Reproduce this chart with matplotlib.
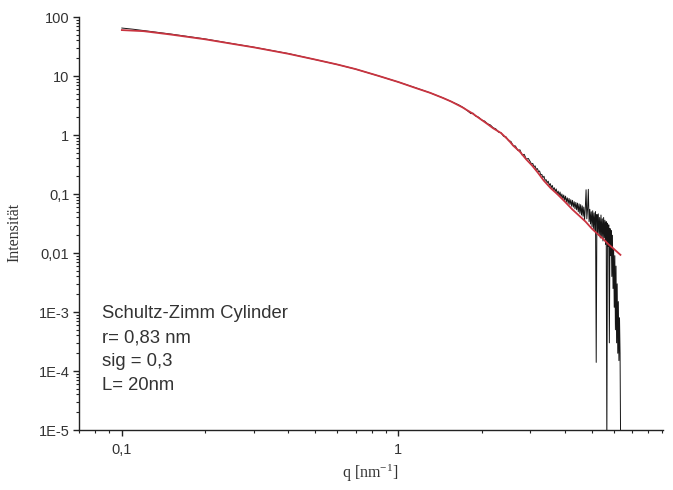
import matplotlib
matplotlib.use("Agg")
import matplotlib.pyplot as plt
from matplotlib.ticker import FixedLocator, FixedFormatter, LogLocator, NullFormatter

# measured scattering curve (q in nm^-1, intensity)
meas_q = [0.1, 0.11, 0.125, 0.15, 0.175, 0.2, 0.25, 0.3, 0.4, 0.5, 0.6, 0.7, 0.85,
          1.0, 1.15, 1.3, 1.45, 1.55, 1.65, 1.72,
          1.80, 1.83, 1.86, 1.90, 1.95, 2.00, 2.05, 2.10, 2.15, 2.20, 2.25, 2.30,
          2.35, 2.40, 2.45, 2.50, 2.55, 2.60, 2.65, 2.70, 2.75, 2.80, 2.85, 2.90, 2.95,
          3.00, 3.03, 3.06, 3.09, 3.12, 3.15, 3.18, 3.21, 3.24, 3.27, 3.30, 3.33, 3.36,
          3.39, 3.42, 3.45, 3.48, 3.51, 3.54, 3.57, 3.60, 3.63, 3.66, 3.69, 3.72, 3.75,
          3.78, 3.81, 3.84, 3.87, 3.90, 3.93, 3.96, 3.99, 4.02, 4.05, 4.08, 4.11, 4.14,
          4.17, 4.20, 4.23, 4.26, 4.29, 4.32, 4.35, 4.38, 4.41, 4.44, 4.47, 4.50, 4.53,
          4.56, 4.59, 4.62, 4.65, 4.68, 4.71, 4.74, 4.77, 4.80, 4.83, 4.86, 4.89, 4.92,
          4.95, 4.98, 5.01, 5.04, 5.07, 5.10, 5.13, 5.16, 5.19, 5.22, 5.25, 5.28, 5.31,
          5.34, 5.37, 5.40, 5.43, 5.46, 5.49, 5.52, 5.55, 5.58, 5.61, 5.64, 5.67, 5.70,
          5.73, 5.76, 5.79, 5.82, 5.85, 5.88, 5.91, 5.94, 5.97, 6.00, 6.03, 6.06, 6.09,
          6.12, 6.15, 6.18, 6.21, 6.24, 6.27, 6.30, 6.33, 6.36]
meas_I = [65, 62, 57.5, 51.5, 46.5, 42.5, 35.5, 30.8, 24, 19, 15.7, 13.1, 10,
          7.9, 6.35, 5.2, 4.25, 3.7, 3.25, 2.9,
          2.45, 2.3, 2.35, 2.1, 2.0, 1.8, 1.72, 1.55, 1.48, 1.33, 1.27, 1.12,
          1.09, 0.95, 0.93, 0.80, 0.78, 0.66, 0.65, 0.55, 0.56, 0.46, 0.47, 0.39, 0.40,
          0.35, 0.32, 0.33, 0.29, 0.30, 0.26, 0.27, 0.24, 0.245, 0.21, 0.215, 0.19, 0.20,
          0.17, 0.175, 0.155, 0.165, 0.14, 0.15, 0.128, 0.14, 0.118, 0.128, 0.11, 0.122, 0.10,
          0.112, 0.094, 0.108, 0.088, 0.10, 0.083, 0.096, 0.078, 0.092, 0.074, 0.086, 0.069, 0.084,
          0.066, 0.08, 0.062, 0.078, 0.06, 0.074, 0.056, 0.072, 0.054, 0.07, 0.05, 0.068, 0.047,
          0.066, 0.044, 0.063, 0.042, 0.06, 0.036, 0.058, 0.118, 0.038, 0.056, 0.12, 0.034, 0.055,
          0.031, 0.05, 0.028, 0.052, 0.026, 0.048, 0.024, 0.05, 0.00014, 0.045, 0.022, 0.046, 0.02,
          0.04, 0.018, 0.044, 0.019, 0.038, 0.016, 0.04, 0.018, 0.036, 0.014, 0.034, 5e-6, 0.032,
          0.013, 0.03, 0.0003, 0.026, 0.009, 0.024, 0.004, 0.02, 0.0025, 0.012, 0.0012, 0.009, 0.0005,
          0.006, 0.0003, 0.003, 0.0002, 0.0015, 0.00015, 0.0008, 0.0002, 5e-6]

# Schultz-Zimm cylinder fit
fit_q = [0.1, 0.12, 0.15, 0.2, 0.25, 0.3, 0.4, 0.5, 0.6, 0.7, 0.85,
         1.0, 1.15, 1.3, 1.45, 1.55, 1.7, 1.85, 2.0, 2.1, 2.2, 2.35, 2.5,
         2.6, 2.75, 2.9, 3.05, 3.2, 3.35, 3.55, 3.75, 4.0, 4.25, 4.5, 4.75,
         5.0, 5.25, 5.5, 5.75, 6.0, 6.35]
fit_I = [60, 57.5, 50.5, 41.9, 35.2, 30.6, 23.8, 19, 15.7, 13.1, 10,
         7.9, 6.3, 5.2, 4.24, 3.7, 2.96, 2.33, 1.8, 1.53, 1.3, 1.08, 0.82,
         0.66, 0.52, 0.385, 0.3, 0.227, 0.17, 0.126, 0.1, 0.074, 0.055, 0.043, 0.034,
         0.026, 0.021, 0.0173, 0.014, 0.0118, 0.0093]

x_ticks = [0.1, 1]
x_labels = ["0,1", "1"]
y_ticks = [1e-5, 1e-4, 1e-3, 1e-2, 1e-1, 1, 10, 100]
y_labels = ["1E-5", "1E-4", "1E-3", "0,01", "0,1", "1", "10", "100"]

model_text = "Schultz-Zimm Cylinder\nr= 0,83 nm\nsig = 0,3\nL= 20nm"

sans = "Liberation Sans"
serif = "Liberation Serif"

plt.rcParams["mathtext.fontset"] = "custom"
plt.rcParams["mathtext.rm"] = serif
plt.rcParams["mathtext.it"] = serif + ":italic"

fig = plt.figure(figsize=(6.73, 4.9), dpi=100)
ax = fig.add_axes([79 / 673, 1 - 430 / 490, 584 / 673, 413 / 490])

ax.plot(meas_q, meas_I, color="#151515", lw=0.7)
ax.plot(fit_q, fit_I, color="#c93440", lw=1.3)

ax.set_xscale("log")
ax.set_yscale("log")
ax.set_xlim(0.07, 9.05)
ax.set_ylim(1e-5, 100)

for side in ["top", "right"]:
    ax.spines[side].set_visible(False)
for side in ["left", "bottom"]:
    ax.spines[side].set_linewidth(1.0)
    ax.spines[side].set_color("#222222")

ax.xaxis.set_major_locator(FixedLocator(x_ticks))
ax.xaxis.set_major_formatter(FixedFormatter(x_labels))
ax.yaxis.set_major_locator(FixedLocator(y_ticks))
ax.yaxis.set_major_formatter(FixedFormatter(y_labels))
ax.xaxis.set_minor_locator(LogLocator(base=10, subs=range(2, 10), numticks=20))
ax.yaxis.set_minor_locator(LogLocator(base=10, subs=range(2, 10), numticks=20))
ax.xaxis.set_minor_formatter(NullFormatter())
ax.yaxis.set_minor_formatter(NullFormatter())

ax.tick_params(which="major", direction="out", length=4, width=1.0,
               color="#222222", labelsize=10.5, labelcolor="#333333")
ax.tick_params(which="minor", direction="out", length=2.5, width=0.8, color="#222222")
ax.tick_params(axis="y", which="major", pad=3)
ax.tick_params(axis="x", which="major", pad=5)
for lbl in ax.get_xticklabels() + ax.get_yticklabels():
    lbl.set_fontfamily(sans)

ax.set_xlabel(r"q [nm$^{\mathrm{-1}}$]", fontfamily=serif, fontsize=11.5, color="#333333")
ax.set_ylabel("Intensität", fontfamily=serif, fontsize=11.5, color="#333333")
ax.xaxis.set_label_coords((370 - 79) / 584, -(463 - 430) / 413)
ax.yaxis.set_label_coords(-(79 - 22) / 584, (430 - 232) / 413)

fig.text(102 / 673, 1 - 305 / 490, model_text, fontfamily=sans, fontsize=13.3,
         color="#333333", va="top", ha="left", linespacing=1.55)

fig.savefig("out.png", dpi=100)
